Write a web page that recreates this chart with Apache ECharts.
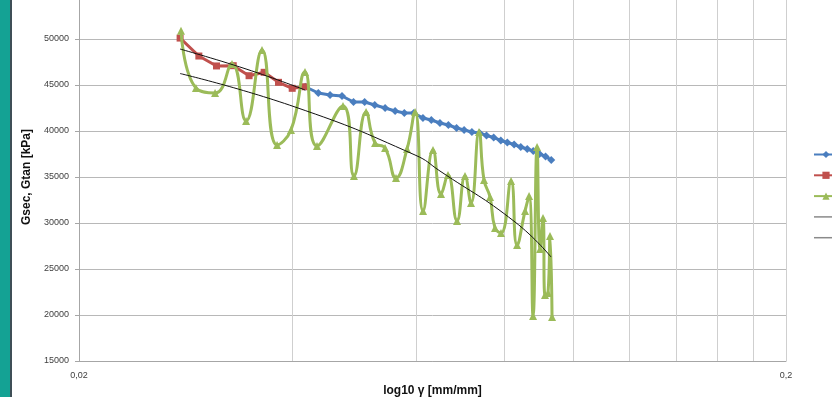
<!DOCTYPE html>
<html><head><meta charset="utf-8">
<script src="https://cdn.jsdelivr.net/npm/echarts@6/dist/echarts.min.js"></script>
<style>html,body{margin:0;padding:0;background:#fff;overflow:hidden}#c{width:832px;height:397px}</style>
</head><body><div id="c"></div>
<script>
// ---- data (x = strain, y = modulus kPa) ----
const redX = [0.0278, 0.02955, 0.0313, 0.03305, 0.0348, 0.03655, 0.0383, 0.04005, 0.0418];
const redY = [50100, 48150, 47070, 47100, 46010, 46380, 45290, 44640, 44810];

const blueX = [0.0418, 0.0436, 0.0453, 0.0471, 0.0489, 0.0507, 0.0524, 0.0542, 0.0560, 0.0577,
               0.0595, 0.0613, 0.0630, 0.0648, 0.0666, 0.0684, 0.0701, 0.0719, 0.0737, 0.0754,
               0.0772, 0.0790, 0.0807, 0.0825, 0.0843, 0.0861, 0.0878, 0.0896, 0.0914, 0.0931];
const blueY = [44810, 44130, 43910, 43800, 43150, 43150, 42830, 42500, 42170, 41960,
               41960, 41410, 41200, 40870, 40650, 40330, 40110, 39890, 39780, 39510,
               39290, 38970, 38750, 38530, 38260, 38040, 37820, 37500, 37230, 36850];

const greenX = [0.02788, 0.02927, 0.03115, 0.03292, 0.03446, 0.0363, 0.03812, 0.03989, 0.04175, 0.04342,
                0.04725, 0.04897, 0.05094, 0.05245, 0.05419, 0.05616, 0.05821, 0.05975, 0.06133, 0.06335,
                0.06502, 0.06652, 0.0685, 0.07031, 0.0717, 0.07359, 0.0748, 0.07628, 0.07753, 0.07906,
                0.08168, 0.0833, 0.08549, 0.08661, 0.08775, 0.0889, 0.08977, 0.09065, 0.09124, 0.09214,
                0.09274, 0.09335];
const greenY = [50900, 44670, 44130, 47280, 41090, 48800, 38480, 40110, 46410, 38370,
                42720, 35110, 42070, 38700, 38150, 34890, 38040, 42070, 31300, 37930,
                33150, 35220, 30220, 35110, 32170, 39890, 34670, 32830, 29460, 28910,
                34560, 27610, 31300, 32930, 19890, 38260, 27170, 30540, 22170, 22390,
                28590, 19780];

const trend1X = [0.02779, 0.03446, 0.04175];
const trend1Y = [48910, 46740, 44460];
const trend2X = [0.02779, 0.04042, 0.05975, 0.0648, 0.08275, 0.09306];
const trend2Y = [46250, 42610, 37390, 35650, 30110, 26300];

const xLabelValues = [0.02, 0.2];
const xGridValues = [0.02, 0.04, 0.06, 0.08, 0.1, 0.12, 0.14, 0.16, 0.18, 0.2];
const yMin = 15000, yMax = 55000, yStep = 5000;

const seriesNames = ['Gsec 1', 'Gsec 2', 'Gtan', 'Trend Gsec', 'Trend Gtan'];
const zip = (xs, ys) => xs.map((x, i) => [x, ys[i]]);

const chart = echarts.init(document.getElementById('c'), null, {renderer: 'canvas'});
chart.setOption({
  animation: false,
  backgroundColor: '#ffffff',
  grid: {left: 79, right: 46, top: -7, bottom: 36, containLabel: false, outerBoundsMode: 'none'},
  graphic: [
    {type: 'rect', left: 0, top: 0, shape: {width: 10, height: 397}, style: {fill: '#14a294'}, silent: true},
    {type: 'rect', left: 10, top: 0, shape: {width: 2, height: 397}, style: {fill: '#3f4f57'}, silent: true}
  ],
  xAxis: {
    type: 'log', logBase: 10, min: 0.02, max: 0.2,
    name: 'log10 γ [mm/mm]', nameLocation: 'middle', nameGap: 22,
    nameTextStyle: {fontFamily: 'Liberation Sans', fontWeight: 'bold', fontSize: 12, color: '#111'},
    axisLine: {show: true, lineStyle: {color: '#a6a6a6', width: 1}},
    axisTick: {show: false, customValues: xGridValues},
    axisLabel: {customValues: xLabelValues, fontFamily: 'Liberation Sans', fontSize: 9, color: '#404040', margin: 10,
                formatter: v => String(+v.toFixed(4)).replace('.', ',')},
    splitLine: {show: true, lineStyle: {color: '#cfcfcf', width: 1}},
    minorTick: {show: false}
  },
  yAxis: {
    type: 'value', min: yMin, max: yMax, interval: yStep,
    name: 'Gsec, Gtan [kPa]', nameLocation: 'middle', nameGap: 44,
    nameTextStyle: {fontFamily: 'Liberation Sans', fontWeight: 'bold', fontSize: 12, color: '#111'},
    axisLine: {show: true, lineStyle: {color: '#a6a6a6', width: 1}},
    axisTick: {show: true, length: 4, inside: false, lineStyle: {color: '#a6a6a6'}},
    axisLabel: {fontFamily: 'Liberation Sans', fontSize: 9, color: '#404040', margin: 10,
                formatter: v => String(v)},
    splitLine: {show: true, lineStyle: {color: '#b8b8b8', width: 1}}
  },
  legend: {
    orient: 'vertical', left: 808, top: 145, itemWidth: 24, itemHeight: 9, itemGap: 12.7,
    formatter: () => '', textStyle: {fontSize: 1, padding: 0},
    selectedMode: false,
    data: [
      {name: seriesNames[0]}, {name: seriesNames[1]}, {name: seriesNames[2]},
      {name: seriesNames[3], lineStyle: {color: '#8a8a8a', width: 1.5}, itemStyle: {opacity: 0}},
      {name: seriesNames[4], lineStyle: {color: '#8a8a8a', width: 1.5}, itemStyle: {opacity: 0}}
    ]
  },
  series: [
    {name: seriesNames[0], type: 'line', data: zip(blueX, blueY), color: '#4a7ebf',
     lineStyle: {width: 3}, symbol: 'diamond', symbolSize: 8, itemStyle: {color: '#4a7ebf'}, z: 2},
    {name: seriesNames[1], type: 'line', data: zip(redX, redY), color: '#c0504d',
     lineStyle: {width: 3}, symbol: 'rect', symbolSize: 7, itemStyle: {color: '#c0504d'}, z: 3},
    {name: seriesNames[2], type: 'line', data: zip(greenX, greenY), color: '#9bbb59', smooth: 0.5,
     smoothConstraint: false,
     lineStyle: {width: 3}, symbol: 'triangle', symbolSize: 8, itemStyle: {color: '#9bbb59'}, z: 4},
    {name: seriesNames[3], type: 'line', data: zip(trend1X, trend1Y), color: '#111', smooth: true,
     lineStyle: {width: 1}, symbol: 'none', z: 5},
    {name: seriesNames[4], type: 'line', data: zip(trend2X, trend2Y), color: '#111', smooth: true,
     lineStyle: {width: 1}, symbol: 'none', z: 5}
  ]
});
</script>
</body></html>
